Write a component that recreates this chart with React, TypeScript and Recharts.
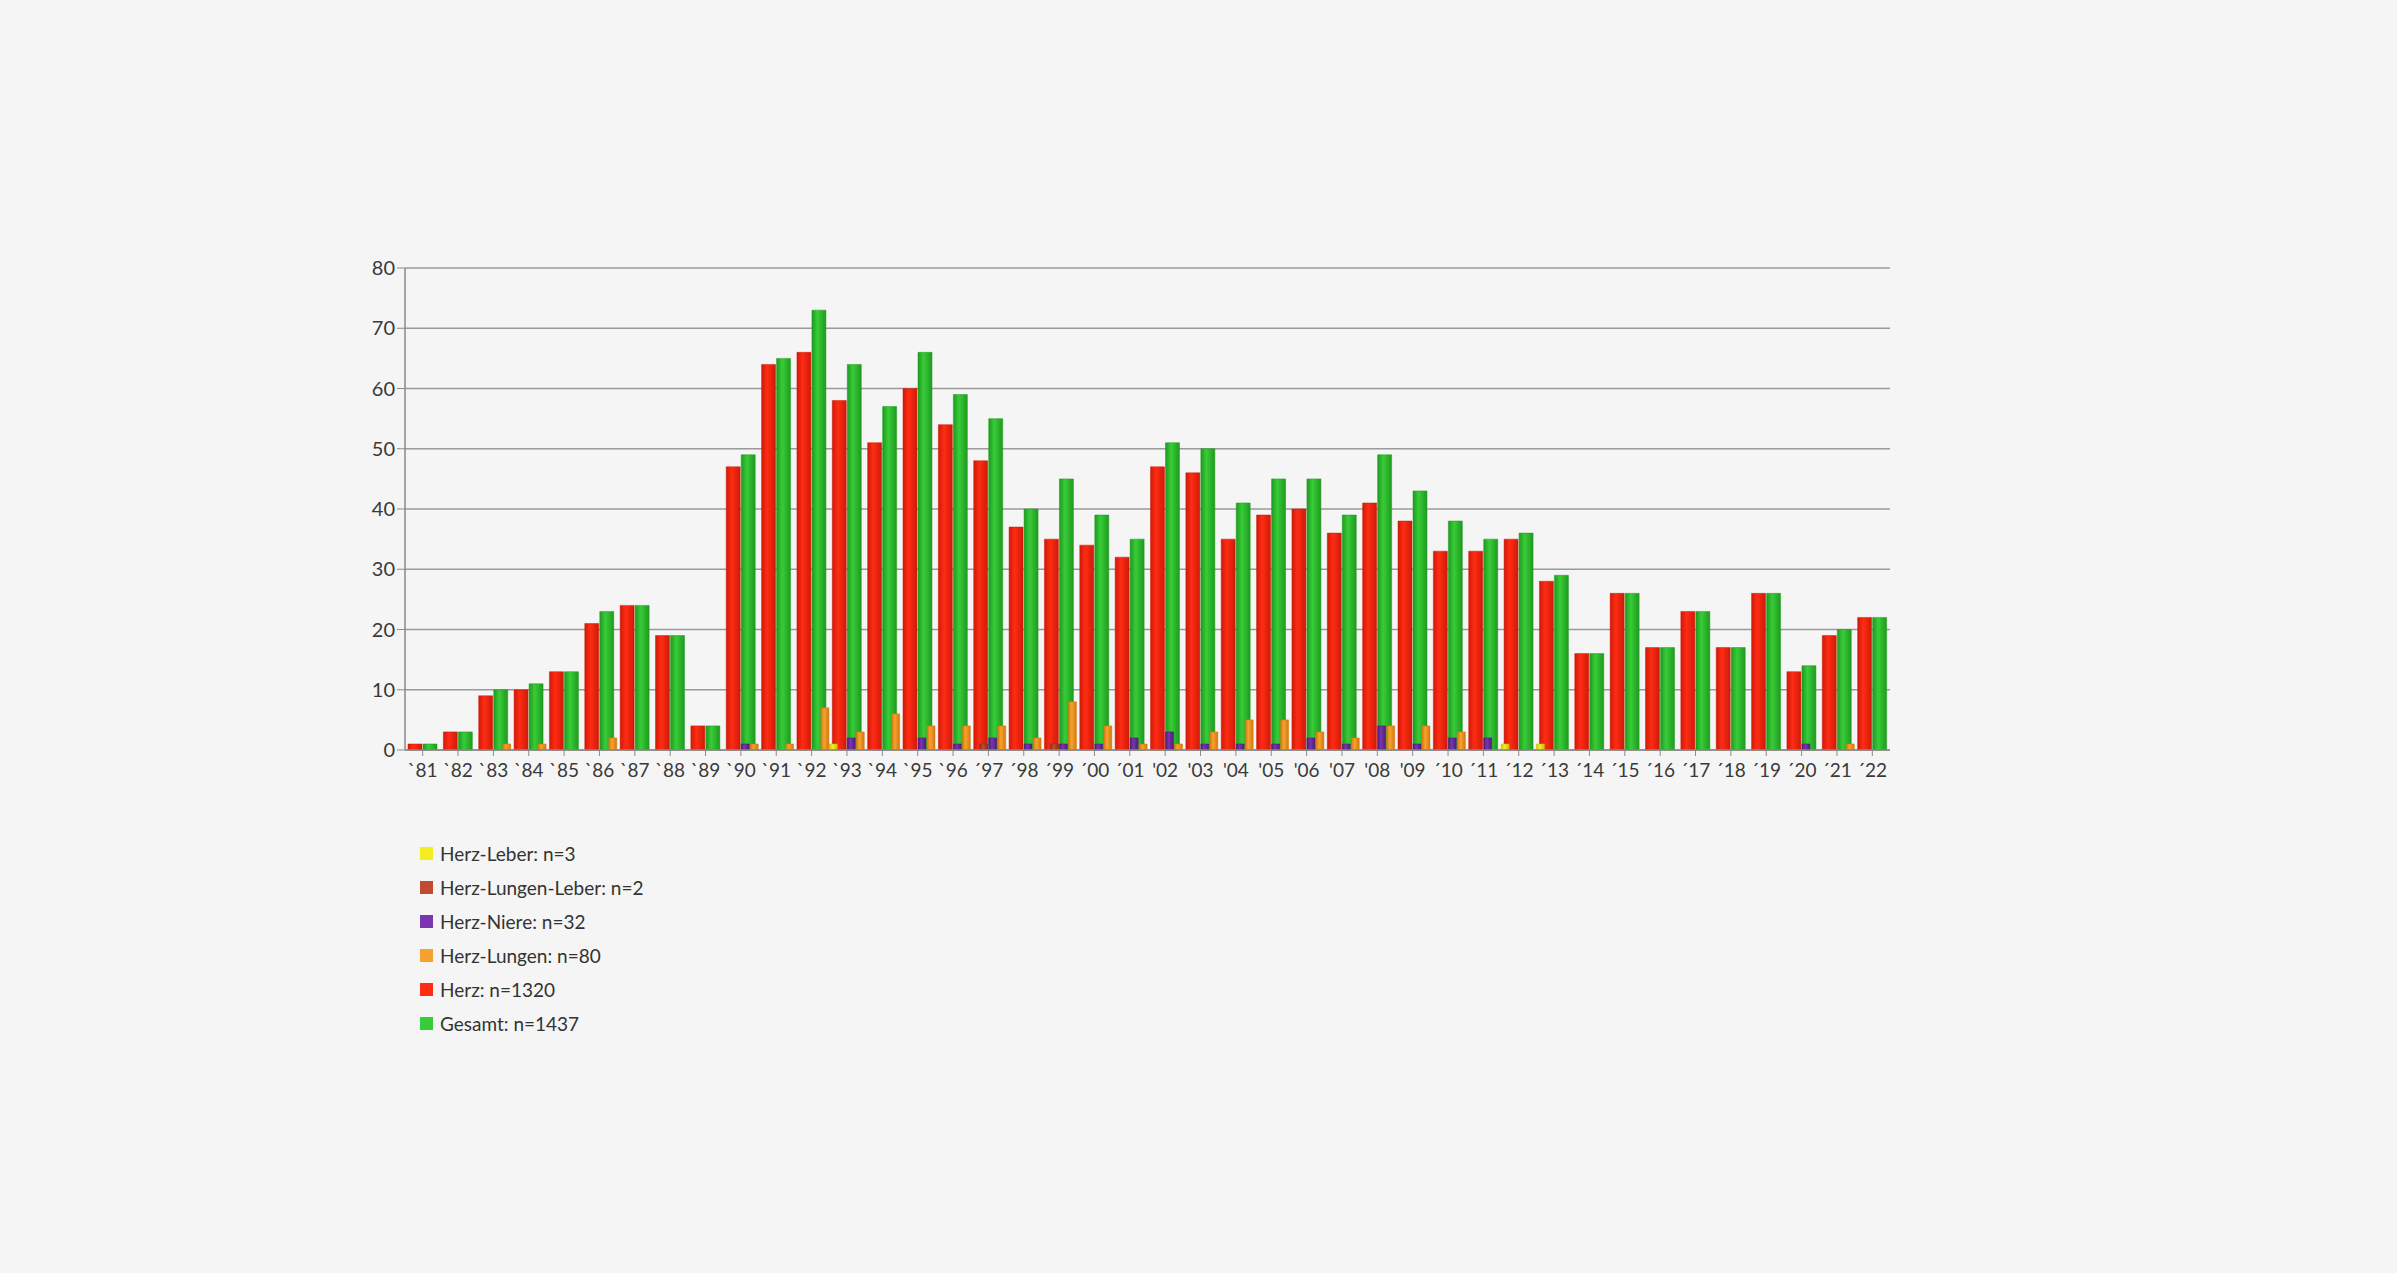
import { BarChart, Bar, XAxis, YAxis, CartesianGrid } from 'recharts';

// Jahreslabels wie im Original (Apostroph-Varianten übernommen)
const YEARS = [
  '`81', '`82', '`83', '`84', '`85', '`86', '`87', '`88', '`89', '`90',
  '`91', '`92', '`93', '`94', '`95', '`96', '´97', '´98', '´99', '´00',
  '´01', "'02", "'03", "'04", "'05", "'06", "'07", "'08", "'09", '´10',
  '´11', '´12', '´13', '´14', '´15', '´16', '´17', '´18', '´19', '´20',
  '´21', '´22',
];

const GESAMT = [
  1, 3, 10, 11, 13, 23, 24, 19, 4, 49,
  65, 73, 64, 57, 66, 59, 55, 40, 45, 39,
  35, 51, 50, 41, 45, 45, 39, 49, 43, 38,
  35, 36, 29, 16, 26, 17, 23, 17, 26, 14,
  20, 22,
];

const HERZ = [
  1, 3, 9, 10, 13, 21, 24, 19, 4, 47,
  64, 66, 58, 51, 60, 54, 48, 37, 35, 34,
  32, 47, 46, 35, 39, 40, 36, 41, 38, 33,
  33, 35, 28, 16, 26, 17, 23, 17, 26, 13,
  19, 22,
];

const HERZ_LUNGEN = [
  0, 0, 1, 1, 0, 2, 0, 0, 0, 1,
  1, 7, 3, 6, 4, 4, 4, 2, 8, 4,
  1, 1, 3, 5, 5, 3, 2, 4, 4, 3,
  0, 0, 0, 0, 0, 0, 0, 0, 0, 0,
  1, 0,
];

const HERZ_NIERE = [
  0, 0, 0, 0, 0, 0, 0, 0, 0, 1,
  0, 0, 2, 0, 2, 1, 2, 1, 1, 1,
  2, 3, 1, 1, 1, 2, 1, 4, 1, 2,
  2, 0, 0, 0, 0, 0, 0, 0, 0, 1,
  0, 0,
];

const HERZ_LUNGEN_LEBER = [
  0, 0, 0, 0, 0, 0, 0, 0, 0, 0,
  0, 0, 0, 0, 0, 0, 1, 0, 1, 0,
  0, 0, 0, 0, 0, 0, 0, 0, 0, 0,
  0, 0, 0, 0, 0, 0, 0, 0, 0, 0,
  0, 0,
];

const HERZ_LEBER = [
  0, 0, 0, 0, 0, 0, 0, 0, 0, 0,
  0, 0, 1, 0, 0, 0, 0, 0, 0, 0,
  0, 0, 0, 0, 0, 0, 0, 0, 0, 0,
  0, 1, 1, 0, 0, 0, 0, 0, 0, 0,
  0, 0,
];

const Y_TICKS = [0, 10, 20, 30, 40, 50, 60, 70, 80];

// Reihenfolge = Legende von oben nach unten
const SERIES = [
  { key: 'herzLeber', name: 'Herz-Leber: n=3', color: '#f3ee22', edge: '#c8c20c', values: HERZ_LEBER, axis: 'front' },
  { key: 'herzLungenLeber', name: 'Herz-Lungen-Leber: n=2', color: '#c24a32', edge: '#8e2e1c', values: HERZ_LUNGEN_LEBER, axis: 'front' },
  { key: 'herzNiere', name: 'Herz-Niere: n=32', color: '#7a35b0', edge: '#4e1c7a', values: HERZ_NIERE, axis: 'front' },
  { key: 'herzLungen', name: 'Herz-Lungen: n=80', color: '#f7a22e', edge: '#d27810', values: HERZ_LUNGEN, axis: 'front' },
  { key: 'herz', name: 'Herz: n=1320', color: '#ff2c14', edge: '#cf1a08', values: HERZ, axis: 'main' },
  { key: 'gesamt', name: 'Gesamt: n=1437', color: '#38cc38', edge: '#1f9a1f', values: GESAMT, axis: 'main' },
];

const data = YEARS.map((year, i) => {
  const row: Record<string, string | number> = { year };
  SERIES.forEach(s => { row[s.key] = s.values[i]; });
  return row;
});

const FONT = 'Lato, "Open Sans", "DejaVu Sans", sans-serif';

export default function App() {
  // main: Herz + Gesamt hinten, front: kleine Reihen davor
  const mainSeries = SERIES.filter(s => s.axis === 'main');
  const frontSeries = SERIES.filter(s => s.axis === 'front');

  return (
    <div style={{ position: 'absolute', left: 0, top: 0, width: 2397, height: 1273, background: '#f5f5f5', fontFamily: FONT }}>
      <div style={{ position: 'absolute', left: 300, top: 240 }}>
        <BarChart
          width={1620}
          height={560}
          data={data}
          margin={{ top: 28, right: 30, bottom: 0, left: 0 }}
          barCategoryGap="14%"
          barGap={1}
        >
          <defs>
            {SERIES.map(s => (
              <linearGradient key={s.key} id={`grad-${s.key}`} x1="0" y1="0" x2="1" y2="0">
                <stop offset="0%" stopColor={s.edge} />
                <stop offset="40%" stopColor={s.color} />
                <stop offset="100%" stopColor={s.edge} />
              </linearGradient>
            ))}
          </defs>
          <CartesianGrid vertical={false} stroke="#9a9a9a" strokeWidth={1.5} xAxisId="main" />
          <XAxis xAxisId="front" dataKey="year" hide height={0} />
          <XAxis
            xAxisId="main"
            dataKey="year"
            interval={0}
            height={50}
            tick={{ fontSize: 19, fill: '#3a3a3a', fontFamily: FONT }}
            tickLine={{ stroke: '#8a8a8a' }}
            axisLine={{ stroke: '#8a8a8a', strokeWidth: 1.5 }}
            tickMargin={8}
          />
          <YAxis
            domain={[0, 80]}
            ticks={Y_TICKS}
            width={105}
            tick={{ fontSize: 20, fill: '#3a3a3a', fontFamily: FONT }}
            tickLine={{ stroke: '#8a8a8a' }}
            axisLine={{ stroke: '#8a8a8a', strokeWidth: 1.5 }}
            tickSize={8}
          />
          {mainSeries.map(s => (
            <Bar
              key={s.key}
              xAxisId="main"
              dataKey={s.key}
              name={s.name}
              fill={`url(#grad-${s.key})`}
              stroke={s.edge}
              strokeWidth={0.5}
              barSize={14}
              isAnimationActive={false}
            />
          ))}
          {frontSeries.map(s => (
            <Bar
              key={s.key}
              xAxisId="front"
              dataKey={s.key}
              name={s.name}
              fill={`url(#grad-${s.key})`}
              stroke={s.edge}
              strokeWidth={0.5}
              barSize={8}
              isAnimationActive={false}
            />
          ))}
        </BarChart>
      </div>

      {/* Legende */}
      <div style={{ position: 'absolute', left: 420, top: 836 }}>
        {SERIES.map(s => (
          <div key={s.key} style={{ display: 'flex', alignItems: 'center', height: 34 }}>
            <span style={{ display: 'inline-block', width: 13, height: 13, background: s.color, marginRight: 7 }} />
            <span style={{ fontSize: 19, color: '#333' }}>{s.name}</span>
          </div>
        ))}
      </div>
    </div>
  );
}
